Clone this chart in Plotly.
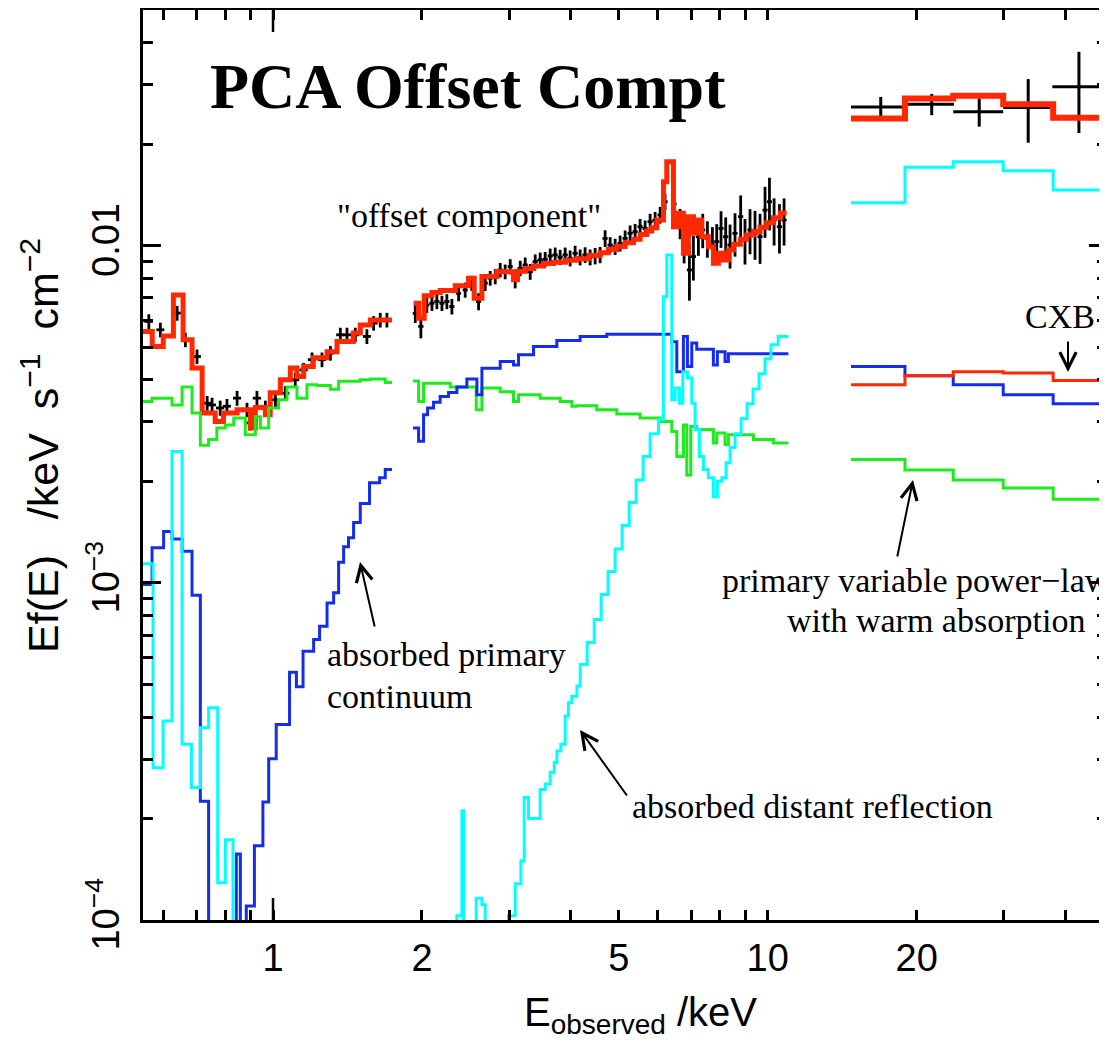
import math
import plotly.graph_objects as go

# ---------------- DATA (energies in keV, Ef(E) in keV s^-1 cm^-2) ----------------
# PCA data, low-energy part
lo_E = [0.561, 0.592, 0.640, 0.665, 0.702, 0.736, 0.753, 0.782, 0.807, 0.846,
        0.886, 0.900, 0.928, 0.965, 1.011, 1.059, 1.109, 1.153, 1.199, 1.256,
        1.306, 1.368, 1.411, 1.467, 1.548, 1.597, 1.647, 1.699]
lo_F = [5.96e-3, 5.63e-3, 6.31e-3, 5.26e-3, 4.69e-3, 3.41e-3, 3.37e-3, 3.30e-3, 3.34e-3, 3.53e-3,
        3.26e-3, 2.98e-3, 3.53e-3, 3.30e-3, 3.49e-3, 3.65e-3, 4.00e-3, 4.28e-3, 4.59e-3, 4.59e-3,
        4.80e-3, 5.44e-3, 5.44e-3, 5.44e-3, 5.38e-3, 5.89e-3, 6.02e-3, 6.02e-3]
lo_Ferr = [3.0e-4, 2.8e-4, 3.2e-4, 2.6e-4, 2.3e-4, 1.7e-4, 1.7e-4, 1.7e-4, 1.7e-4, 1.8e-4,
           1.6e-4, 1.5e-4, 1.8e-4, 1.7e-4, 1.7e-4, 1.8e-4, 2.0e-4, 2.1e-4, 2.3e-4, 2.3e-4,
           2.4e-4, 2.7e-4, 2.7e-4, 2.7e-4, 2.7e-4, 2.9e-4, 3.0e-4, 3.0e-4]
lo_Ehw = [0.011, 0.011, 0.012, 0.013, 0.013, 0.014, 0.014, 0.015, 0.015, 0.016,
          0.017, 0.017, 0.018, 0.018, 0.019, 0.020, 0.021, 0.022, 0.023, 0.024,
          0.025, 0.026, 0.027, 0.028, 0.029, 0.030, 0.031, 0.032]

# PCA data, 2-11 keV part
mid_E = [1.939, 1.990, 2.046, 2.095, 2.144, 2.195, 2.246, 2.299, 2.372, 2.446,
         2.522, 2.603, 2.685, 2.748, 2.813, 2.879, 2.946, 3.016, 3.087, 3.160,
         3.234, 3.310, 3.388, 3.467, 3.549, 3.633, 3.718, 3.805, 3.895, 3.986,
         4.080, 4.176, 4.274, 4.375, 4.478, 4.583, 4.691, 4.802, 4.915, 5.030,
         5.149, 5.270, 5.394, 5.521, 5.651, 5.784, 5.920, 6.060, 6.202, 6.467,
         6.650, 6.775, 6.945, 7.075, 7.242, 7.389, 7.551, 7.729, 7.886, 8.046,
         8.223, 8.391, 8.587, 8.816, 8.995, 9.208, 9.425, 9.648, 9.875, 10.08,
         10.30, 10.56, 10.79]
mid_F_e3 = [6.30, 5.76, 6.67, 6.75, 6.83, 6.75, 6.83, 6.60, 7.22, 7.39,
            7.74, 6.83, 7.74, 8.01, 8.10, 8.47, 8.37, 8.67, 7.92, 8.57,
            8.77, 8.37, 8.97, 9.07, 9.11, 9.32, 9.39, 9.24, 9.39, 9.18,
            9.49, 9.24, 9.39, 9.24, 9.32, 9.39, 10.51, 10.05, 9.93, 10.16,
            10.51, 10.88, 11.00, 11.38, 11.25, 11.78, 11.91, 12.33, 13.50, 13.30,
            11.65, 10.16, 8.47, 9.28, 10.63, 11.13, 10.51, 10.05, 10.28, 11.25,
            10.63, 10.05, 10.88, 12.19, 10.39, 11.13, 10.88, 10.63, 12.75, 13.50,
            11.91, 11.38, 11.91]
mid_Ferr_e3 = [0.40, 0.45, 0.35, 0.35, 0.35, 0.35, 0.35, 0.35, 0.38, 0.38,
               0.40, 0.40, 0.40, 0.40, 0.42, 0.42, 0.42, 0.45, 0.45, 0.45,
               0.45, 0.45, 0.45, 0.47, 0.47, 0.48, 0.48, 0.48, 0.48, 0.50,
               0.50, 0.50, 0.50, 0.50, 0.52, 0.52, 0.60, 0.55, 0.55, 0.55,
               0.58, 0.60, 0.60, 0.62, 0.62, 0.65, 0.68, 0.70, 0.75, 1.0,
               1.2, 1.3, 1.6, 1.4, 1.3, 1.3, 1.3, 1.3, 1.3, 1.4,
               1.5, 1.5, 1.6, 1.9, 1.6, 1.7, 1.8, 1.8, 2.2, 2.4,
               1.9, 1.9, 1.9]
mid_Ehw = [0.023, 0.024, 0.025, 0.025, 0.026, 0.026, 0.027, 0.028, 0.028, 0.029,
           0.030, 0.031, 0.032, 0.033, 0.034, 0.035, 0.035, 0.036, 0.037, 0.038,
           0.039, 0.040, 0.041, 0.042, 0.043, 0.044, 0.045, 0.046, 0.047, 0.048,
           0.049, 0.050, 0.051, 0.053, 0.054, 0.055, 0.056, 0.058, 0.059, 0.060,
           0.062, 0.063, 0.065, 0.066, 0.068, 0.069, 0.071, 0.073, 0.074, 0.078,
           0.080, 0.081, 0.083, 0.085, 0.087, 0.089, 0.091, 0.093, 0.095, 0.097,
           0.099, 0.101, 0.103, 0.106, 0.108, 0.110, 0.113, 0.116, 0.118, 0.121,
           0.124, 0.127, 0.129]

# HEXTE data
hx_E = [16.92, 21.45, 26.76, 33.61, 42.56]
hx_F = [2.580e-2, 2.629e-2, 2.494e-2, 2.570e-2, 2.958e-2]
hx_Ferr = [1.8e-3, 1.9e-3, 2.4e-3, 5.5e-3, 8.0e-3]
hx_Elo = [2.19, 2.51, 3.05, 3.69, 4.96]
hx_Ehi = [2.02, 2.34, 3.16, 3.58, 5.54]

# ---- model components as binned histograms (bin edges, bin values) ----
# total model (red)
red_lo_edges = [0.544, 0.570, 0.600, 0.629, 0.658, 0.686, 0.719, 0.764, 0.794, 0.846, 0.900,
                0.921, 0.965, 0.987, 1.035, 1.084, 1.118, 1.153, 1.206, 1.286, 1.347,
                1.453, 1.501, 1.573, 1.740]
red_lo_vals = [5.56e-3, 5.02e-3, 5.40e-3, 7.14e-3, 5.26e-3, 4.34e-3, 3.19e-3, 3.01e-3, 3.19e-3, 3.26e-3,
               2.88e-3, 3.31e-3, 3.15e-3, 3.66e-3, 4.00e-3, 4.34e-3, 4.09e-3, 4.38e-3, 4.65e-3, 4.85e-3,
               5.20e-3, 5.51e-3, 5.82e-3, 6.02e-3]
red_mid_edges = [1.924, 1.969, 2.021, 2.095, 2.177, 2.335, 2.484, 2.551, 2.644, 2.834,
                 3.063, 3.121, 3.24, 3.362, 3.52, 3.689, 3.90, 4.112, 4.35, 4.583,
                 4.76, 4.953, 5.15, 5.354, 5.52, 5.693, 5.83, 5.967, 6.155, 6.251,
                 6.448, 6.599, 6.754, 6.913, 7.075, 7.242, 7.355, 7.586, 7.765, 7.947,
                 8.134, 8.326, 8.522, 8.80, 9.068, 9.35, 9.648, 9.95, 10.27, 10.6, 10.92]
red_mid_vals_e3 = [6.75, 6.09, 7.10, 7.26, 7.36, 7.60, 8.01, 6.98, 8.10, 8.37,
                   7.92, 8.40, 8.55, 8.70, 8.85, 8.93, 9.05, 9.15, 9.35, 9.52,
                   9.75, 9.95, 10.2, 10.45, 10.8, 11.05, 11.3, 11.91, 15.48, 17.74,
                   11.38, 12.47, 9.49, 12.19, 10.88, 11.91, 10.63, 9.93, 8.87, 9.49,
                   9.07, 9.71, 10.1, 10.45, 10.75, 11.0, 11.35, 11.7, 12.1, 12.5]
hx_edges = [14.73, 18.94, 23.71, 29.92, 37.75, 52.0]
red_hx_vals = [2.385e-2, 2.733e-2, 2.782e-2, 2.629e-2, 2.394e-2]
cxb_hx_vals = [3.87e-3, 4.11e-3, 4.23e-3, 4.19e-3, 3.98e-3]

# primary variable power law with warm absorption (green)
green_lo_edges = [0.546, 0.5695, 0.625, 0.655, 0.686, 0.713, 0.741, 0.770, 0.801, 0.833, 0.879,
                  0.921, 0.943, 0.980, 1.026, 1.067, 1.118, 1.171, 1.227, 1.306, 1.357,
                  1.411, 1.501, 1.573, 1.686, 1.740]
green_lo_vals = [3.45e-3, 3.53e-3, 3.37e-3, 3.81e-3, 3.19e-3, 2.56e-3, 2.66e-3, 2.88e-3, 2.94e-3, 3.08e-3,
                 2.75e-3, 3.11e-3, 2.88e-3, 3.30e-3, 3.49e-3, 3.81e-3, 3.53e-3, 3.87e-3, 3.85e-3, 3.75e-3,
                 3.96e-3, 3.96e-3, 4.00e-3, 4.02e-3, 3.93e-3]
green_mid_edges = [1.918, 1.969, 2.015, 2.281, 2.575, 2.644, 2.879, 3.063, 3.135, 3.467,
                   3.805, 4.018, 4.112, 4.513, 4.953, 5.521, 6.060, 6.398, 6.549, 6.754,
                   6.860, 6.989, 7.186, 7.765, 7.886, 8.198, 8.326, 9.354, 10.27, 11.01]
green_mid_vals_e3 = [3.97, 3.45, 3.91, 3.81, 3.26, 3.78, 3.69, 3.45, 3.61, 3.53,
                     3.45, 3.34, 3.35, 3.26, 3.17, 3.08, 3.01, 2.81, 2.37, 2.94,
                     2.09, 2.91, 2.85, 2.60, 2.78, 2.57, 2.75, 2.66, 2.60]
green_hx_vals = [2.32e-3, 2.16e-3, 2.02e-3, 1.91e-3, 1.77e-3]

# absorbed primary continuum (blue)
blue_lo_edges = [0.546, 0.5695, 0.601, 0.625, 0.655, 0.686, 0.713, 0.741, 0.843, 0.859,
                 0.883, 0.917, 0.954, 0.980, 1.015, 1.080, 1.115, 1.150, 1.208, 1.242,
                 1.286, 1.326, 1.357, 1.389, 1.421, 1.455, 1.501, 1.567, 1.642, 1.686, 1.740]
blue_lo_vals = [9.89e-4, 1.27e-3, 1.42e-3, 1.35e-3, 1.24e-3, 9.19e-4, 2.25e-4, 1e-5, 1.57e-4, 1e-5,
                1.10e-4, 1.66e-4, 2.24e-4, 3.01e-4, 3.80e-4, 5.43e-4, 4.92e-4, 6.27e-4, 6.79e-4, 7.43e-4,
                8.72e-4, 9.34e-4, 1.15e-3, 1.28e-3, 1.36e-3, 1.51e-3, 1.72e-3, 1.98e-3, 2.05e-3, 2.17e-3]
blue_mid_edges = [1.918, 1.969, 2.015, 2.053, 2.111, 2.177, 2.264, 2.353, 2.465, 2.583,
                  2.644, 2.879, 3.063, 3.135, 3.362, 3.747, 4.176, 4.728, 6.398, 6.549,
                  6.754, 6.881, 7.021, 7.186, 7.765, 7.910, 8.198, 8.326, 11.01]
blue_mid_vals_e3 = [2.88, 2.63, 3.15, 3.30, 3.43, 3.57, 3.67, 3.81, 4.02, 3.61,
                    4.33, 4.53, 4.43, 4.75, 5.02, 5.23, 5.38, 5.46, 5.19, 4.23,
                    5.38, 4.38, 5.14, 4.93, 4.43, 4.85, 4.53, 4.78]
blue_hx_vals = [4.38e-3, 4.11e-3, 3.87e-3, 3.61e-3, 3.40e-3]

# absorbed distant reflection (cyan)
cyan_lo_edges = [0.546, 0.572, 0.5995, 0.625, 0.655, 0.684, 0.713, 0.741, 0.773, 0.801, 0.830, 0.86]
cyan_lo_vals = [1.14e-3, 2.83e-4, 3.89e-4, 2.45e-3, 3.32e-4, 2.47e-4, 3.72e-4, 4.26e-4, 1.29e-4, 1.73e-4, 1e-5]
cyan_mid_edges = [2.30, 2.353, 2.409, 2.427, 2.575, 2.644, 2.685, 2.992, 3.087, 3.170,
                  3.219, 3.284, 3.467, 3.549, 3.633, 3.702, 3.748, 3.818, 3.895, 3.955,
                  4.018, 4.114, 4.178, 4.315, 4.459, 4.605, 4.757, 4.915, 5.078, 5.246,
                  5.420, 5.599, 5.784, 6.012, 6.153, 6.252, 6.399, 6.498, 6.629, 6.734,
                  6.880, 7.022, 7.131, 7.275, 7.412, 7.586, 7.765, 7.911, 8.075, 8.238,
                  8.392, 8.589, 8.834, 9.082, 9.339, 9.603, 9.874, 10.15, 10.50, 11.01]
cyan_mid_vals = [1e-5, 1.03e-4, 2.11e-4, 1e-5, 1.16e-4, 1.11e-4, 1e-5, 1.03e-4, 1.28e-4, 1.50e-4,
                 2.31e-4, 2.00e-4, 2.44e-4, 2.53e-4, 2.74e-4, 2.93e-4, 3.17e-4, 3.32e-4, 4.03e-4, 4.41e-4,
                 4.61e-4, 4.94e-4, 5.73e-4, 6.65e-4, 7.78e-4, 9.23e-4, 1.08e-3, 1.26e-3, 1.48e-3, 1.73e-3,
                 2.02e-3, 2.37e-3, 2.77e-3, 3.05e-3, 7.06e-3, 9.39e-3, 3.49e-3, 3.78e-3, 3.41e-3, 4.23e-3,
                 4.05e-3, 3.41e-3, 2.85e-3, 2.37e-3, 2.17e-3, 2.05e-3, 1.80e-3, 2.00e-3, 2.05e-3, 2.27e-3,
                 2.52e-3, 2.77e-3, 3.07e-3, 3.40e-3, 3.76e-3, 4.17e-3, 4.62e-3, 5.08e-3, 5.38e-3]
cyan_hx_vals = [1.341e-2, 1.707e-2, 1.774e-2, 1.668e-2, 1.462e-2]

# axis ticks
x_major = [1, 2, 5, 10, 20]
x_major_text = ["1", "2", "5", "10", "20"]
x_long = [1, 10]
x_minor = [0.6, 0.7, 0.8, 0.9, 3, 4, 6, 7, 8, 9, 30, 40]
y_major = [1e-4, 1e-3, 1e-2]
y_major_text = ["10<sup>\u22124</sup>", "10<sup>\u22123</sup>", "0.01"]
y_minor = [k * 1e-4 for k in range(2, 10)] + [k * 1e-3 for k in range(2, 10)] + [0.02, 0.03, 0.04]

X_RANGE = [0.546, 48.5]
Y_RANGE = [1e-4, 0.05]

# ---------------- colours / styles ----------------
C_RED = "rgb(255,40,0)"
C_GREEN = "rgb(30,235,30)"
C_BLUE = "rgb(20,45,235)"
C_CYAN = "rgb(0,255,255)"
SANS = "Liberation Sans, Arial, sans-serif"
SERIF = "Liberation Serif, Times New Roman, serif"

# the page body has an 8 px margin: figure placed at (8, 8)
OFF = 8
FIG_W, FIG_H = 1107 - OFF, 1047 - OFF

fig = go.Figure()


def step(edges, vals):
    return list(edges), list(vals) + [vals[-1]]


def add_model(edges, vals, color, width):
    xs, ys = step(edges, vals)
    fig.add_trace(go.Scatter(x=xs, y=ys, mode="lines", line=dict(color=color, width=width, shape="hv"),
                             hoverinfo="skip", showlegend=False))


def add_data(E, F, Ferr, ehw=None, elo=None, ehi=None, th=2.8):
    ex = dict(type="data", array=ehw, color="black", thickness=th, width=0)
    if ehi is not None:
        ex = dict(type="data", array=ehi, arrayminus=elo, symmetric=False, color="black", thickness=th, width=0)
    fig.add_trace(go.Scatter(x=E, y=F, mode="markers", marker=dict(size=2, color="black"),
                             error_y=dict(type="data", array=Ferr, color="black", thickness=th, width=0),
                             error_x=ex, hoverinfo="skip", showlegend=False))


e3 = lambda v: [a * 1e-3 for a in v]

add_data(lo_E, lo_F, lo_Ferr, ehw=lo_Ehw)
add_data(mid_E, e3(mid_F_e3), e3(mid_Ferr_e3), ehw=mid_Ehw)
add_data(hx_E, hx_F, hx_Ferr, elo=hx_Elo, ehi=hx_Ehi, th=3)

add_model(red_lo_edges, red_lo_vals, C_RED, 5)
add_model(red_mid_edges, e3(red_mid_vals_e3), C_RED, 5)
add_model(hx_edges, red_hx_vals, C_RED, 6)

add_model(green_lo_edges, green_lo_vals, C_GREEN, 3)
add_model(green_mid_edges, e3(green_mid_vals_e3), C_GREEN, 3)
add_model(hx_edges, green_hx_vals, C_GREEN, 3)

add_model(blue_lo_edges, blue_lo_vals, C_BLUE, 3)
add_model(blue_mid_edges, e3(blue_mid_vals_e3), C_BLUE, 3)
add_model(hx_edges, blue_hx_vals, C_BLUE, 3)

add_model(cyan_lo_edges, cyan_lo_vals, C_CYAN, 3)
add_model(cyan_mid_edges, cyan_mid_vals, C_CYAN, 3)
add_model(hx_edges, cyan_hx_vals, C_CYAN, 3)

add_model(hx_edges, cxb_hx_vals, C_RED, 3)

# dummy trace so the mirrored right-hand tick axis is drawn
fig.add_trace(go.Scatter(x=[1], y=[1e-3], yaxis="y2", mode="markers", marker=dict(opacity=0),
                         hoverinfo="skip", showlegend=False))

tickfont = dict(family=SANS, size=38, color="black")
fig.update_layout(
    template="none",
    width=FIG_W, height=FIG_H,
    margin=dict(l=143 - OFF, r=0, t=10 - OFF, b=127, pad=0),
    paper_bgcolor="white", plot_bgcolor="white",
    showlegend=False,
    xaxis=dict(type="log", range=[math.log10(X_RANGE[0]), math.log10(X_RANGE[1])],
               showline=True, linewidth=3, linecolor="black", mirror="ticks",
               ticks="inside", ticklen=10, tickwidth=2.5, tickcolor="black",
               tickmode="array", tickvals=x_major, ticktext=x_major_text,
               tickfont=tickfont, ticklabelstandoff=2,
               minor=dict(tickmode="array", tickvals=x_minor, ticks="inside", ticklen=10,
                          tickwidth=2.5, tickcolor="black", showgrid=False),
               showgrid=False, zeroline=False, automargin=False),
    yaxis=dict(type="log", range=[math.log10(Y_RANGE[0]), math.log10(Y_RANGE[1])],
               showline=True, linewidth=3, linecolor="black", mirror=False,
               ticks="inside", ticklen=18, tickwidth=2.5, tickcolor="black",
               tickmode="array", tickvals=y_major, ticktext=y_major_text,
               tickangle=-90, tickfont=tickfont, ticklabelstandoff=6,
               minor=dict(tickmode="array", tickvals=y_minor, ticks="inside", ticklen=10,
                          tickwidth=2.5, tickcolor="black", showgrid=False),
               showgrid=False, zeroline=False, automargin=False),
    yaxis2=dict(type="log", range=[math.log10(Y_RANGE[0]), math.log10(Y_RANGE[1])],
                overlaying="y", side="right", showline=False,
                ticks="inside", ticklen=18, tickwidth=2.5, tickcolor="black",
                tickmode="array", tickvals=y_major, showticklabels=False,
                minor=dict(tickmode="array", tickvals=y_minor, ticks="inside", ticklen=10,
                           tickwidth=2.5, tickcolor="black", showgrid=False),
                showgrid=False, zeroline=False, automargin=False),
)

# long major ticks at 1 and 10 (bottom and top)
L = 22 / 910
for xv in x_long:
    for y0, y1 in [(0, L), (1 - L, 1)]:
        fig.add_shape(type="line", xref="x", yref="paper", x0=math.log10(xv), x1=math.log10(xv),
                      y0=y0, y1=y1, line=dict(color="black", width=2.5))

W, H = 964.0, 910.0


def px(xp, yp):
    return (xp - 143) / W, (920 - yp) / H


def text(xp, yp, s, size=34, family=SERIF, anchor="left", bold=False):
    x, y = px(xp, yp)
    if bold:
        s = "<b>" + s + "</b>"
    fig.add_annotation(x=x, y=y, xref="paper", yref="paper", text=s, showarrow=False,
                       xanchor=anchor, yanchor="middle", font=dict(family=family, size=size, color="black"))


def arrow(tipx, tipy, tailx, taily):
    x, y = px(tipx, tipy)
    fig.add_annotation(x=x, y=y, xref="paper", yref="paper", text="", showarrow=True,
                       ax=tailx - tipx, ay=taily - tipy, axref="pixel", ayref="pixel",
                       arrowhead=5, arrowsize=1.6, arrowwidth=2, arrowcolor="black", standoff=0)


text(208, 86, "PCA Offset Compt", size=64, bold=True)
text(335, 216, "\"offset component\"")
text(1060, 316, "CXB", anchor="center")
text(720, 580, "primary variable power\u2212law")
text(785, 620, "with warm absorption")
text(325, 655, "absorbed primary")
text(325, 696, "continuum")
text(630, 806, "absorbed distant reflection")

arrow(1068, 372, 1068, 340)
arrow(913, 480, 897, 558)
arrow(360, 562, 375, 628)
arrow(580, 730, 628, 797)

# axis titles
xt, yt = px(640, 1015)
fig.add_annotation(x=xt, y=yt, xref="paper", yref="paper", showarrow=False,
                   text="E<sub>observed</sub> /keV", xanchor="center", yanchor="middle",
                   font=dict(family=SANS, size=40, color="black"))
xt, yt = px(40, 446)
fig.add_annotation(x=xt, y=yt, xref="paper", yref="paper", showarrow=False, textangle=-90,
                   text="Ef(E)   /keV  s<sup>\u22121</sup>  cm<sup>\u22122</sup>",
                   xanchor="center", yanchor="middle", font=dict(family=SANS, size=43, color="black"))

fig.write_html("out.html")
